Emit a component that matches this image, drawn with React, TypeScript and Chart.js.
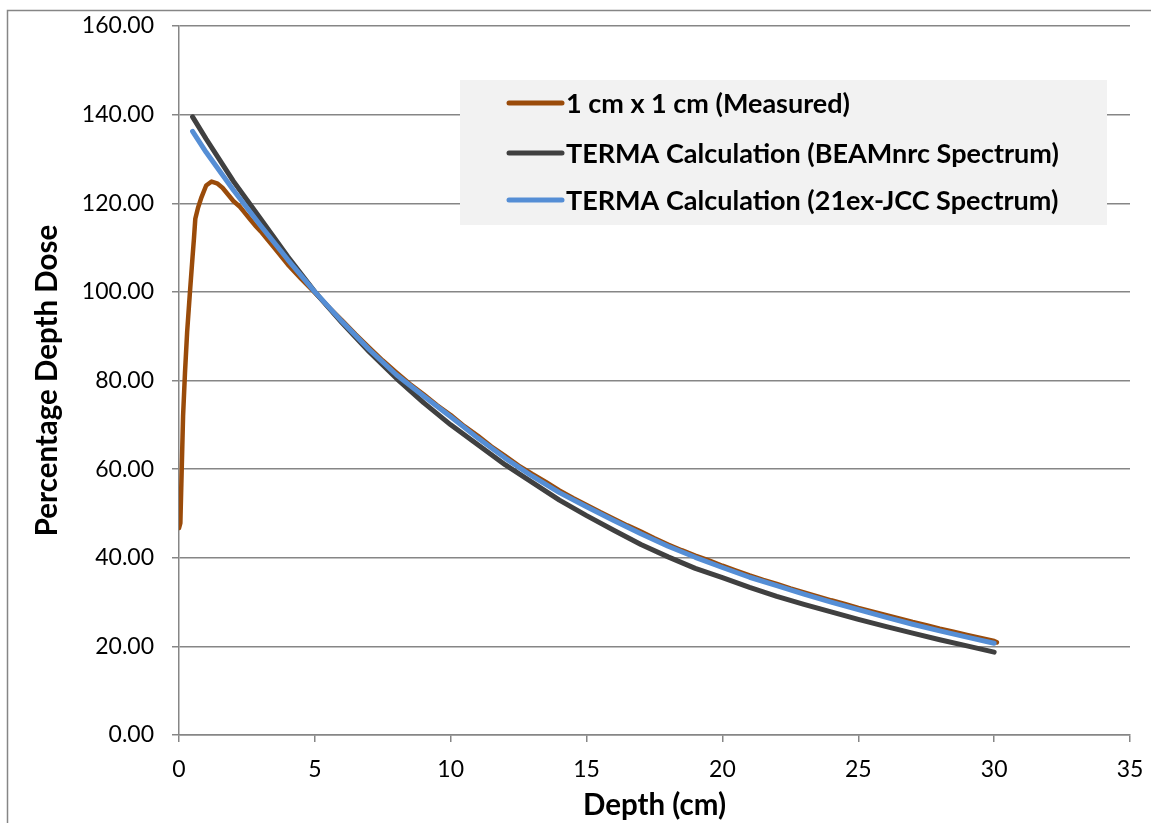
import React, { useEffect, useRef } from "react";
import { Chart, registerables } from "chart.js";

Chart.register(...registerables);

// ---- Data ----
const measuredDepth = [
  0, 0.05, 0.1, 0.15, 0.22, 0.3, 0.4, 0.5, 0.55, 0.6, 0.7, 0.83, 1.0, 1.2, 1.4, 1.6, 1.88, 2.0, 2.24, 2.4, 2.6, 2.8,
  3.0, 3.5, 4.0, 4.5, 5.0, 5.5, 6.0, 6.5, 7.0, 7.5, 8.0, 8.5, 9.0, 9.5, 10, 10.5, 11, 11.5, 12, 12.5, 13, 13.5, 14,
  14.5, 15, 15.5, 16, 16.5, 17, 17.5, 18, 18.5, 19, 19.5, 20, 20.5, 21, 21.5, 22, 22.5, 23, 23.5, 24, 24.5, 25, 25.5,
  26, 26.5, 27, 27.5, 28, 28.5, 29, 29.5, 30, 30.1,
];
const measuredDose = [
  46.7, 47.8, 60, 72, 81.7, 91, 99.7, 108, 112, 116.5, 119, 121.4, 124, 124.9, 124.5, 123.5, 121.4, 120.5, 119.2, 118,
  116.5, 115, 113.7, 110, 106.2, 102.9, 99.8, 96.6, 93.6, 90.4, 87.4, 84.5, 81.8, 79.2, 76.9, 74.4, 72.2, 69.7, 67.5,
  65.1, 63, 60.8, 58.9, 57.1, 55.2, 53.5, 51.9, 50.3, 48.8, 47.3, 45.9, 44.4, 43, 41.7, 40.5, 39.4, 38.2, 37.1, 36, 35,
  34.1, 33.1, 32.2, 31.3, 30.4, 29.6, 28.7, 27.9, 27.1, 26.3, 25.5, 24.8, 24.0, 23.3, 22.6, 21.9, 21.2, 20.9,
];

const calcDepth = [
  0.5, 1, 2, 3, 4, 5, 6, 7, 8, 9, 10, 11, 12, 13, 14, 15, 16, 17, 18, 19, 20, 21, 22, 23, 24, 25, 26, 27, 28, 29, 30,
];
const beamDose = [
  139.5, 134.5, 125, 116.5, 108, 100, 93, 86.5, 80.5, 75, 70, 65.5, 61, 57, 53, 49.5, 46.2, 43, 40.2, 37.6, 35.5, 33.3,
  31.3, 29.5, 27.8, 26.1, 24.5, 23, 21.5, 20.1, 18.7,
];
const jccDose = [
  136.2, 131.5, 123, 115, 107.3, 100, 93.3, 87, 81.3, 76.5, 71.8, 67, 62.5, 58.4, 54.7, 51.5, 48.4, 45.4, 42.6, 40.1,
  37.8, 35.6, 33.7, 31.8, 30, 28.3, 26.6, 25, 23.5, 22.1, 20.7,
];

const seriesLabels = [
  "1 cm x 1 cm (Measured)",
  "TERMA Calculation (BEAMnrc Spectrum)",
  "TERMA Calculation (21ex-JCC Spectrum)",
];
const seriesColors = ["#9A4B0A", "#404040", "#558ED5"];

const xTicksMax = 35;
const yTicksMax = 160;

const FONT = "Lato, 'Open Sans', sans-serif";
const GRID = "#868686";

function pts(xs: number[], ys: number[]) {
  return xs.map((x, i) => ({ x, y: ys[i] }));
}

const frameAndLegend = {
  id: "frameAndLegend",
  beforeDraw(chart: any) {
    const ctx = chart.ctx;
    ctx.save();
    ctx.fillStyle = "#ffffff";
    ctx.fillRect(0, 0, chart.width, chart.height);
    ctx.strokeStyle = GRID;
    ctx.lineWidth = 1.5;
    ctx.beginPath();
    ctx.moveTo(7.5, chart.height + 2);
    ctx.lineTo(7.5, 10.5);
    ctx.lineTo(chart.width + 2, 10.5);
    ctx.stroke();
    ctx.restore();
  },
  afterDatasetsDraw(chart: any) {
    const ctx = chart.ctx;
    const ds = chart.data.datasets;
    ctx.save();
    ctx.fillStyle = "#F2F2F2";
    ctx.fillRect(460, 80, 647, 145);
    const rows = [103, 153, 200];
    ctx.font = `bold 27px ${FONT}`;
    ctx.textBaseline = "middle";
    ctx.textAlign = "left";
    ds.forEach((d: any, i: number) => {
      const y = rows[i];
      ctx.strokeStyle = d.borderColor;
      ctx.lineWidth = 5;
      ctx.lineCap = "round";
      ctx.beginPath();
      ctx.moveTo(509, y);
      ctx.lineTo(562, y);
      ctx.stroke();
      ctx.fillStyle = "#000000";
      ctx.fillText(d.label, 566, y + 1);
    });
    ctx.restore();
  },
};

export default function App() {
  const ref = useRef<HTMLCanvasElement>(null);

  useEffect(() => {
    if (!ref.current) return;
    const chart = new Chart(ref.current, {
      type: "line",
      data: {
        datasets: [
          {
            label: seriesLabels[0],
            data: pts(measuredDepth, measuredDose),
            borderColor: seriesColors[0],
            backgroundColor: seriesColors[0],
            borderWidth: 4.5,
            order: 2,
          },
          {
            label: seriesLabels[1],
            data: pts(calcDepth, beamDose),
            borderColor: seriesColors[1],
            backgroundColor: seriesColors[1],
            borderWidth: 5,
            order: 1,
          },
          {
            label: seriesLabels[2],
            data: pts(calcDepth, jccDose),
            borderColor: seriesColors[2],
            backgroundColor: seriesColors[2],
            borderWidth: 5,
            order: 0,
          },
        ],
      },
      options: {
        animation: false,
        responsive: false,
        maintainAspectRatio: false,
        parsing: true,
        elements: {
          point: { radius: 0, hoverRadius: 0 },
          line: { tension: 0, borderCapStyle: "round", borderJoinStyle: "round" },
        },
        layout: { padding: { top: 26, right: 21, left: 0, bottom: 0 } },
        plugins: {
          legend: { display: false },
          tooltip: { enabled: false },
        },
        scales: {
          x: {
            type: "linear",
            min: 0,
            max: xTicksMax,
            ticks: {
              stepSize: 5,
              color: "#000",
              font: { family: FONT, size: 23 },
              padding: 14,
              maxRotation: 0,
            },
            grid: { drawOnChartArea: false, drawTicks: true, tickLength: 7, color: GRID, lineWidth: 1.5 },
            border: { display: true, color: GRID, width: 1.5 },
            title: {
              display: true,
              text: "Depth (cm)",
              color: "#000",
              font: { family: FONT, size: 29.5, weight: "bold" },
              padding: { top: 0, bottom: 0 },
            },
            afterFit(scale: any) {
              scale.height = 88;
              scale.paddingLeft = 0;
              scale.paddingRight = 0;
            },
          },
          y: {
            type: "linear",
            min: 0,
            max: yTicksMax,
            ticks: {
              stepSize: 20,
              color: "#000",
              font: { family: FONT, size: 23 },
              padding: 18,
              callback: (v: any) => Number(v).toFixed(2),
            },
            grid: { drawOnChartArea: true, drawTicks: true, tickLength: 7, color: GRID, lineWidth: 1.5 },
            border: { display: true, color: GRID, width: 1.5 },
            title: {
              display: true,
              text: "Percentage Depth Dose",
              color: "#000",
              font: { family: FONT, size: 29.5, weight: "bold" },
              padding: { top: 30, bottom: 0 },
            },
            afterFit(scale: any) {
              scale.width = 179;
              scale.paddingTop = 0;
              scale.paddingBottom = 0;
            },
          },
        },
      },
      plugins: [frameAndLegend],
    } as any);
    return () => chart.destroy();
  }, []);

  return (
    <div style={{ position: "fixed", left: 0, top: 0, width: 1151, height: 823, background: "#fff" }}>
      <canvas ref={ref} width={1151} height={823} style={{ display: "block", width: 1151, height: 823 }} />
    </div>
  );
}
